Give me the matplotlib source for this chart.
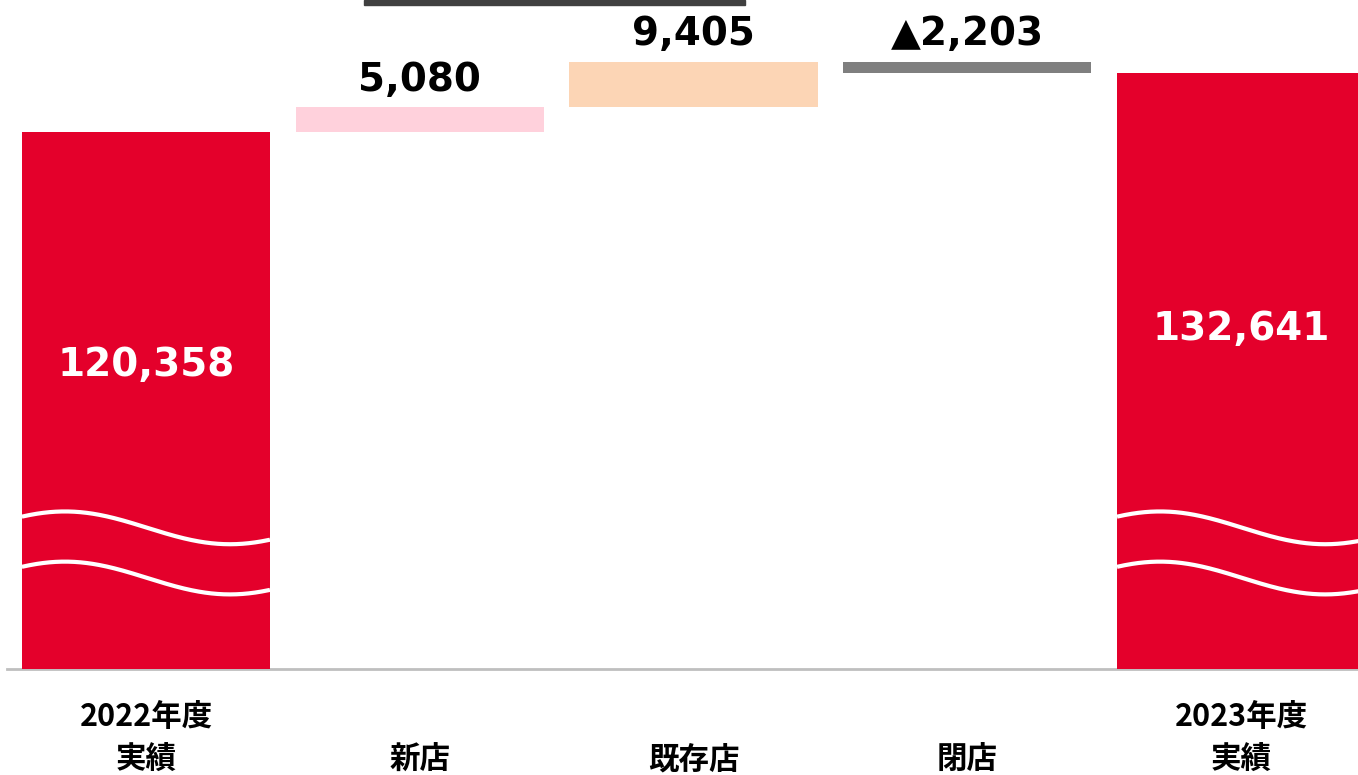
import matplotlib

matplotlib.use("Agg")
import matplotlib.pyplot as plt
import matplotlib.transforms as mtransforms
from matplotlib.patches import Rectangle
import numpy as np

plt.rcParams["font.family"] = ["Noto Sans CJK JP", "DejaVu Sans"]

# data
START_VALUE = 120358
END_VALUE = 132641
DELTA_VALUES = [5080, 9405, -2203]
CATEGORY_LINES = [["2022年度", "実績"], ["新店"], ["既存店"], ["閉店"], ["2023年度", "実績"]]

RED = "#E4002B"
DELTA_COLORS = ["#FFD1DC", "#FCD5B5", "#7F7F7F"]

Y_MIN = 9246
Y_MAX = 147670
BAR_W = 0.906

fig = plt.figure(figsize=(13.58, 7.75), dpi=100)
ax = fig.add_axes([0, 1 - 669 / 775, 1, 669 / 775])
ax.set_xlim(-0.533, 4.427)
ax.set_ylim(Y_MIN, Y_MAX)
ax.axis("off")

n = len(CATEGORY_LINES)
xs = np.arange(n)

# totals
ax.bar([xs[0], xs[-1]], [START_VALUE, END_VALUE], width=BAR_W, color=RED, zorder=2)

# increments
running = START_VALUE
for i, d in enumerate(DELTA_VALUES):
    x = xs[i + 1]
    bottom = running if d > 0 else running + d
    ax.bar(x, abs(d), bottom=bottom, width=BAR_W, color=DELTA_COLORS[i], zorder=2)
    top = max(running, running + d)
    label = f"{d:,}" if d > 0 else f"▲{-d:,}"
    ax.annotate(label, (x, top), xytext=(0, 12), textcoords="offset points",
                ha="center", va="baseline", fontsize=28, fontweight="bold",
                family="DejaVu Sans", color="#000000")
    running += d

# total labels
for x, v in [(xs[0], START_VALUE), (xs[-1], END_VALUE)]:
    ax.text(x, v * 0.6, f"{v:,}", ha="center", va="center", fontsize=28,
            fontweight="bold", family="DejaVu Sans", color="white", zorder=4)

# break waves on the total bars
trans = mtransforms.blended_transform_factory(ax.transData, ax.transAxes)
t = np.linspace(0, 1, 200)
wave = np.cos(2 * np.pi * (t * 248 - 43) / 330)
for x in [xs[0], xs[-1]]:
    wx = x - BAR_W / 2 + t * BAR_W
    for c in [0.211, 0.136]:
        ax.plot(wx, c + 0.0245 * wave, color="white", lw=3, transform=trans,
                zorder=3, solid_capstyle="butt")

# baseline
ax.axhline(Y_MIN, xmin=7 / 1358, xmax=1, color="#BFBFBF", lw=2, zorder=1, clip_on=False)

# category labels
for x, lines in zip(xs, CATEGORY_LINES):
    for k, line in enumerate(reversed(lines)):
        fig.text((146 + x * 273.75) / 1358, 1 - (760 - 43 * k) / 775, line,
                 ha="center", va="center", fontsize=22, fontweight="bold", color="#000000")

# dark strip at the top edge
fig.add_artist(Rectangle((364 / 1358, 1 - 5 / 775), 381 / 1358, 5 / 775,
                         transform=fig.transFigure, color="#404040"))

fig.savefig("out.png", dpi=100)
